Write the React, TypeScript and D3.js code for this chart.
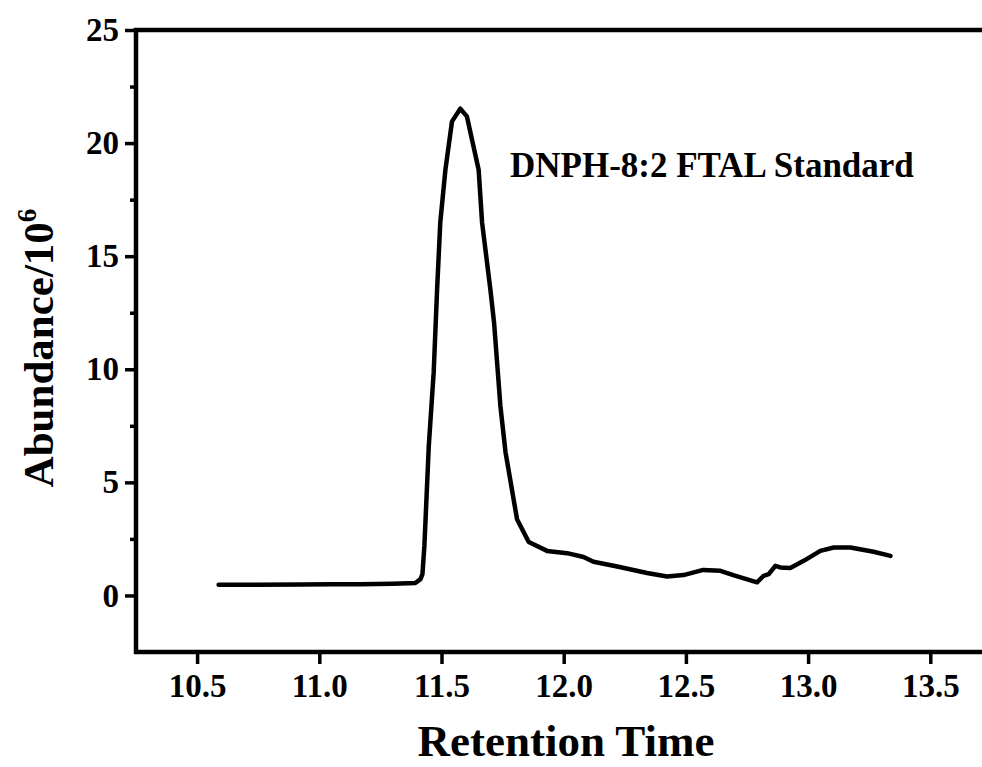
import { useEffect, useRef } from "react";
import * as d3 from "d3";

// retention time (min) and abundance (x10^6)
const times = [
  10.588, 10.75, 10.923, 11.05, 11.168, 11.3, 11.393, 11.414, 11.422, 11.43,
  11.448, 11.468, 11.482, 11.495, 11.516, 11.543, 11.577, 11.604, 11.652, 11.666,
  11.7, 11.715, 11.741, 11.762, 11.809, 11.857, 11.932, 12.014, 12.081, 12.122,
  12.219, 12.341, 12.423, 12.49, 12.571, 12.641, 12.694, 12.791, 12.818, 12.839,
  12.866, 12.886, 12.927, 12.982, 13.05, 13.105, 13.173, 13.268, 13.337,
];
const abundance = [
  0.47, 0.47, 0.48, 0.49, 0.5, 0.52, 0.55, 0.72, 0.94, 2.19,
  6.61, 9.86, 13.53, 16.49, 18.82, 20.96, 21.52, 21.18, 18.82, 16.49,
  13.53, 12.07, 8.38, 6.33, 3.37, 2.36, 1.97, 1.87, 1.7, 1.49,
  1.28, 0.99, 0.84, 0.9, 1.13, 1.09, 0.9, 0.58, 0.87, 0.94,
  1.31, 1.24, 1.21, 1.53, 1.97, 2.12, 2.12, 1.93, 1.75,
];
const xTicks = [10.5, 11.0, 11.5, 12.0, 12.5, 13.0, 13.5];
const yTicks = [0, 5, 10, 15, 20, 25];
const yMinorTicks = [2.5, 7.5, 12.5, 17.5, 22.5];

const FONT = "'Liberation Serif', 'Times New Roman', serif";

const App = () => {
  const ref = useRef<SVGSVGElement | null>(null);

  useEffect(() => {
    const el = ref.current;
    if (!el) return;
    const svg = d3.select(el);
    svg.selectAll("*").remove();

    const W = 982, H = 767;
    svg.attr("width", W).attr("height", H);
    svg.append("rect").attr("width", W).attr("height", H).attr("fill", "#fff");

    const x = d3.scaleLinear().domain([10.25, 13.75]).range([136, 991.4]);
    const y = d3.scaleLinear().domain([-2.5, 25]).range([652, 30]);

    // ── frame ────────────────────────────────────────────────
    svg.append("rect")
      .attr("x", x(10.25)).attr("y", y(25))
      .attr("width", x(13.75) - x(10.25))
      .attr("height", y(-2.5) - y(25))
      .attr("fill", "none")
      .attr("stroke", "#000")
      .attr("stroke-width", 4.5);

    // ── y axis ───────────────────────────────────────────────
    const yG = svg.append("g").attr("transform", `translate(${x(10.25)},0)`);
    yG.call(d3.axisLeft(y).tickValues(yMinorTicks).tickSize(6).tickSizeOuter(0).tickFormat(() => ""));
    yG.append("g").call(d3.axisLeft(y).tickValues(yTicks).tickSize(11).tickSizeOuter(0).tickPadding(6).tickFormat(d3.format("d")));
    yG.selectAll(".domain").remove();
    yG.selectAll("line").attr("stroke", "#000").attr("stroke-width", 3.5);
    yG.selectAll("text")
      .attr("fill", "#000")
      .style("font-family", FONT)
      .style("font-weight", "700")
      .style("font-size", "33px");

    // ── x axis ───────────────────────────────────────────────
    const xG = svg.append("g").attr("transform", `translate(0,${y(-2.5)})`);
    xG.call(d3.axisBottom(x).tickValues(xTicks).tickSize(12).tickSizeOuter(0).tickPadding(10).tickFormat(d3.format(".1f")));
    xG.select(".domain").remove();
    xG.selectAll("line").attr("stroke", "#000").attr("stroke-width", 3.5);
    xG.selectAll("text")
      .attr("fill", "#000")
      .style("font-family", FONT)
      .style("font-weight", "700")
      .style("font-size", "33px");

    // ── trace ────────────────────────────────────────────────
    const pts: [number, number][] = times.map((t, i) => [t, abundance[i]]);
    const line = d3.line<[number, number]>()
      .x(d => x(d[0]))
      .y(d => y(d[1]));
    svg.append("path")
      .attr("d", line(pts))
      .attr("fill", "none")
      .attr("stroke", "#000")
      .attr("stroke-width", 4.5)
      .attr("stroke-linejoin", "round")
      .attr("stroke-linecap", "round");

    // ── labels ───────────────────────────────────────────────
    svg.append("text")
      .attr("x", 566).attr("y", 756)
      .attr("text-anchor", "middle")
      .style("font-family", FONT)
      .style("font-weight", "700")
      .style("font-size", "45px")
      .text("Retention Time");

    const yl = svg.append("text")
      .attr("transform", "translate(53,348) rotate(-90)")
      .attr("text-anchor", "middle")
      .style("font-family", FONT)
      .style("font-weight", "700")
      .style("font-size", "43px");
    yl.append("tspan").text("Abundance/10");
    yl.append("tspan").attr("dy", -17).style("font-size", "27px").text("6");

    svg.append("text")
      .attr("x", 510).attr("y", 177)
      .style("font-family", FONT)
      .style("font-weight", "700")
      .style("font-size", "35px")
      .text("DNPH-8:2 FTAL Standard");
  }, []);

  return (
    <svg
      ref={ref}
      width={982}
      height={767}
      style={{ position: "absolute", left: 0, top: 0, display: "block" }}
    />
  );
};

export default App;
